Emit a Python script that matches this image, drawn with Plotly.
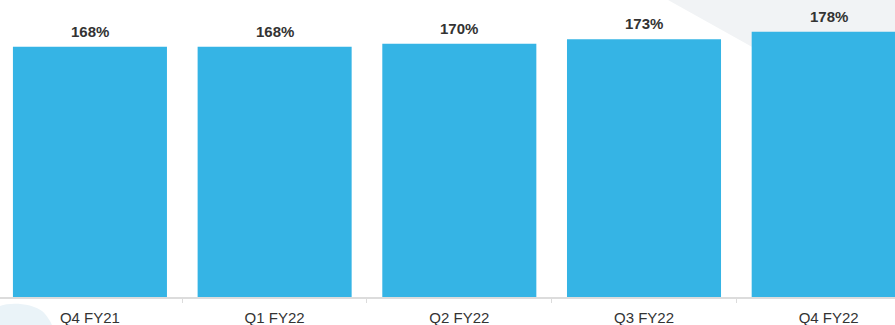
import plotly.graph_objects as go

quarters = ["Q4 FY21", "Q1 FY22", "Q2 FY22", "Q3 FY22", "Q4 FY22"]
retention = [168, 168, 170, 173, 178]
value_labels = ["168%", "168%", "170%", "173%", "178%"]

bar_color = "#35B4E5"
text_color = "#333333"
axis_color = "#DCDCDC"

fig = go.Figure()
fig.add_trace(go.Bar(
    x=quarters,
    y=retention,
    marker=dict(color=bar_color, line=dict(width=0)),
    width=0.834,
    hoverinfo="skip",
))

# value labels above each bar
for q, v, lab in zip(quarters, retention, value_labels):
    fig.add_annotation(
        x=q, y=v, text=f"<b>{lab}</b>", showarrow=False,
        yanchor="bottom", yshift=5,
        font=dict(family="Liberation Sans, Arial, sans-serif", size=15, color=text_color),
    )

# decorative background shapes
fig.add_shape(
    type="path", xref="paper", yref="paper", layer="below",
    path="M 0.7464 1 L 1 1 L 1 0.55 L 0.8425 0.838 Z",
    fillcolor="#F1F3F5", line=dict(width=0),
)
fig.add_shape(
    type="path", xref="paper", yref="paper", layer="below",
    path="M 0.0 -0.03 C 0.012 -0.018 0.035 -0.02 0.048 -0.05 C 0.054 -0.07 0.057 -0.085 0.058 -0.095 L 0 -0.095 Z",
    fillcolor="#EAF3F8", line=dict(width=0),
)

fig.update_layout(
    width=895, height=325,
    margin=dict(l=0, r=0, t=0, b=28),
    paper_bgcolor="white", plot_bgcolor="rgba(0,0,0,0)",
    showlegend=False,
    bargap=0.166,
    xaxis=dict(
        range=[-0.487, 4.359],
        showline=True, linecolor=axis_color, linewidth=1.5,
        ticks="outside", tickson="boundaries", ticklen=4, tickcolor=axis_color, tickwidth=1,
        ticklabelstandoff=6,
        tickfont=dict(family="Liberation Sans, Arial, sans-serif", size=15, color=text_color),
        showgrid=False, zeroline=False,
    ),
    yaxis=dict(
        range=[0, 199.3], visible=False, showgrid=False, zeroline=False,
    ),
)

fig.write_html("out.html")
